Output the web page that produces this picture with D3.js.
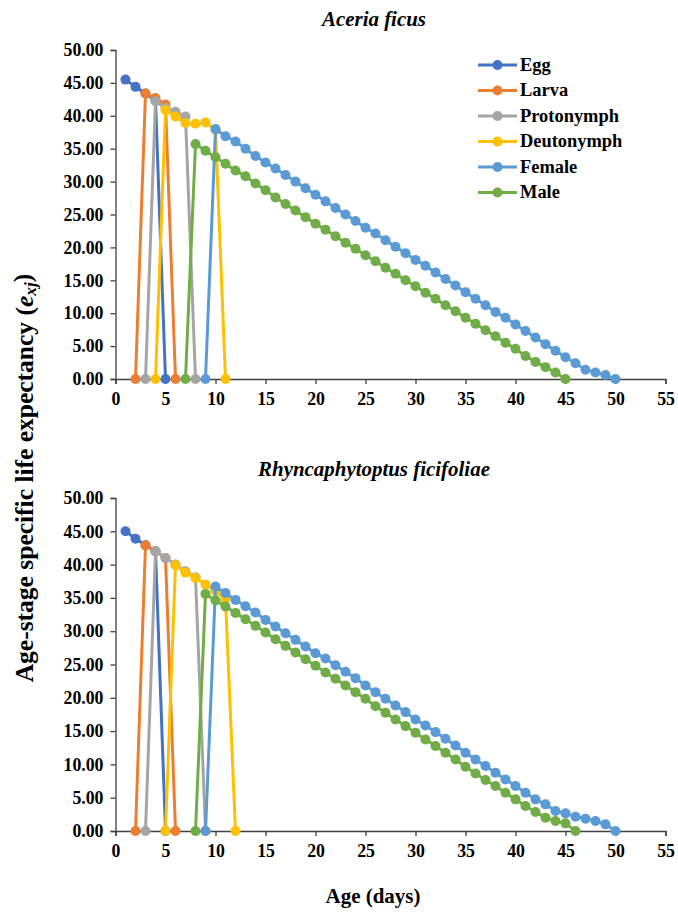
<!DOCTYPE html>
<html>
<head>
<meta charset="utf-8">
<script src="https://cdn.jsdelivr.net/npm/d3@7"></script>
<style>
  html, body { margin: 0; padding: 0; background: #fff; }
  svg { display: block; }
  text { font-family: "Liberation Serif", "Times New Roman", serif; }
</style>
</head>
<body>
<svg id="chart" width="678" height="914"></svg>
<script>
// ---------- data ----------
const stageNames = ["Egg", "Larva", "Protonymph", "Deutonymph", "Female", "Male"];
const stageColors = ["#4472C4", "#ED7D31", "#A5A5A5", "#FFC000", "#5B9BD5", "#70AD47"];
const xTicks = [0, 5, 10, 15, 20, 25, 30, 35, 40, 45, 50, 55];
const yTicks = [0, 5, 10, 15, 20, 25, 30, 35, 40, 45, 50];
const titles = ["Aceria ficus", "Rhyncaphytoptus ficifoliae"];

// Aceria ficus: first age (day) of each series and e_xj values
const startA = [1, 2, 3, 4, 9, 7];
const eggA = [45.5, 44.4, 43.4, 42.3, 0];
const larvaA = [0, 43.4, 42.7, 41.7, 0];
const protoA = [0, 42.2, 41.2, 40.6, 39.9, 0];
const deutoA = [0, 40.9, 39.9, 38.9, 38.8, 39.0, 37.9, 0];
const femaleA = [0, 38.0, 36.9, 36.1, 35.0, 33.9, 32.9, 32.0, 31.0, 30.0, 29.0, 28.0, 27.0, 26.0,
  25.0, 24.0, 23.0, 22.1, 21.1, 20.1, 19.1, 18.1, 17.2, 16.2, 15.2, 14.2, 13.2, 12.2, 11.2, 10.2,
  9.3, 8.3, 7.3, 6.3, 5.3, 4.3, 3.3, 2.4, 1.4, 1.0, 0.6, 0];
const maleA = [0, 35.7, 34.7, 33.7, 32.7, 31.7, 30.8, 29.7, 28.7, 27.6, 26.6, 25.6, 24.6, 23.6,
  22.7, 21.7, 20.7, 19.8, 18.8, 17.9, 16.9, 16.0, 15.0, 14.1, 13.1, 12.2, 11.2, 10.3, 9.3, 8.4,
  7.4, 6.5, 5.5, 4.6, 3.5, 2.6, 1.8, 1.0, 0];

// Rhyncaphytoptus ficifoliae
const startB = [1, 2, 3, 5, 9, 8];
const eggB = [45.0, 43.9, 42.9, 42.0, 0];
const larvaB = [0, 42.9, 42.0, 41.0, 0];
const protoB = [0, 42.0, 41.0, 40.0, 39.0, 38.1, 0];
const deutoB = [0, 39.9, 38.8, 38.0, 37.0, 36.0, 34.8, 0];
const femaleB = [0, 36.7, 35.75, 34.7, 33.75, 32.8, 31.7, 30.7, 29.7, 28.7, 27.7, 26.7, 25.9, 24.9,
  23.9, 22.95, 21.85, 20.85, 19.85, 18.85, 17.85, 16.75, 15.85, 14.85, 13.85, 12.85, 11.75, 10.75,
  9.75, 8.75, 7.75, 6.75, 5.75, 4.75, 4.0, 3.0, 2.65, 2.15, 1.85, 1.5, 1.0, 0];
const maleB = [0, 35.6, 34.6, 33.7, 32.75, 31.8, 30.8, 29.8, 28.8, 27.8, 26.8, 25.8, 24.8, 23.8,
  22.85, 21.85, 20.85, 19.85, 18.75, 17.75, 16.75, 15.75, 14.75, 13.75, 12.75, 11.75, 10.75, 9.65,
  8.65, 7.65, 6.75, 5.75, 4.75, 3.75, 2.85, 2.0, 1.5, 1.15, 0];

// ---------- drawing ----------
const svg = d3.select("#chart");
const FONT = '"Liberation Serif", "Times New Roman", serif';
const axisColor = "#404040";

// font size that makes a sample string reach a target width
function fitSize(str, target, base, extra) {
  const t = svg.append("text").style("font-size", base + "px").style("font-weight", "bold")
    .style("font-style", extra || "normal").text(str);
  const w = t.node().getComputedTextLength();
  t.remove();
  return w > 0 ? base * target / w : base;
}
const tickSize = fitSize("50.00", 40, 17);
const legendSize = fitSize("Protonymph", 99, 18);
const titleSize = fitSize(titles[1], 232, 21, "italic");

const panels = [
  { title: titles[0], starts: startA, series: [eggA, larvaA, protoA, deutoA, femaleA, maleA],
    top: 50, bottom: 379, titleY: 26, legend: true },
  { title: titles[1], starts: startB, series: [eggB, larvaB, protoB, deutoB, femaleB, maleB],
    top: 498, bottom: 831, titleY: 476, legend: false }
];

const x = d3.scaleLinear().domain([0, 55]).range([115.5, 665.5]);

panels.forEach(p => {
  const y = d3.scaleLinear().domain([0, 50]).range([p.bottom, p.top]);
  const g = svg.append("g");

  g.append("text")
    .attr("x", 374).attr("y", p.titleY)
    .attr("text-anchor", "middle")
    .style("font-size", titleSize + "px").style("font-weight", "bold").style("font-style", "italic")
    .text(p.title);

  const yAxis = d3.axisLeft(y).tickValues(yTicks).tickSize(5).tickPadding(7)
    .tickFormat(d3.format(".2f"));
  const ya = g.append("g").attr("transform", `translate(${x(0)},0)`).call(yAxis);
  const xAxis = d3.axisBottom(x).tickValues(xTicks).tickSize(5).tickPadding(8);
  const xa = g.append("g").attr("transform", `translate(0,${y(0)})`).call(xAxis);

  [ya, xa].forEach(a => {
    a.attr("font-family", FONT).attr("font-size", tickSize).attr("font-weight", "bold");
    a.select(".domain").attr("stroke", axisColor).attr("stroke-width", 1.3);
    a.selectAll(".tick line").attr("stroke", axisColor).attr("stroke-width", 1.3);
    a.selectAll(".tick text").attr("fill", "#000")
      .style("font-family", FONT).style("font-size", tickSize + "px").style("font-weight", "bold");
  });

  const line = d3.line().x(d => x(d[0])).y(d => y(d[1]));

  p.series.forEach((vals, i) => {
    const pts = vals.map((v, k) => [p.starts[i] + k, v]);
    const sg = g.append("g");
    sg.append("path").datum(pts)
      .attr("d", line).attr("fill", "none")
      .attr("stroke", stageColors[i]).attr("stroke-width", 3)
      .attr("stroke-linejoin", "round");
    sg.selectAll("circle").data(pts).join("circle")
      .attr("cx", d => x(d[0])).attr("cy", d => y(d[1]))
      .attr("r", 5).attr("fill", stageColors[i]);
  });

  if (p.legend) {
    const lg = g.append("g");
    stageNames.forEach((name, i) => {
      const yy = 65 + i * 25.5;
      lg.append("line").attr("x1", 478).attr("x2", 517).attr("y1", yy).attr("y2", yy)
        .attr("stroke", stageColors[i]).attr("stroke-width", 3);
      lg.append("circle").attr("cx", 497.5).attr("cy", yy).attr("r", 5).attr("fill", stageColors[i]);
      lg.append("text").attr("x", 520).attr("y", yy + legendSize * 0.32)
        .style("font-size", legendSize + "px").style("font-weight", "bold").text(name);
    });
  }
});

// y axis label
const yl = svg.append("text")
  .attr("text-anchor", "middle")
  .attr("transform", "translate(33,478) rotate(-90)")
  .style("font-size", "25.5px").style("font-weight", "bold");
yl.append("tspan").text("Age-stage specific life expectancy (");
yl.append("tspan").style("font-style", "italic").text("e");
yl.append("tspan").style("font-style", "italic").style("font-size", "0.68em").attr("dy", "0.2em").text("xj");
yl.append("tspan").attr("dy", "-0.2em").text(")");

// x axis label
svg.append("text")
  .attr("x", 373).attr("y", 903)
  .attr("text-anchor", "middle")
  .style("font-size", fitSize("Age (days)", 95, 21) + "px").style("font-weight", "bold")
  .text("Age (days)");
</script>
</body>
</html>
